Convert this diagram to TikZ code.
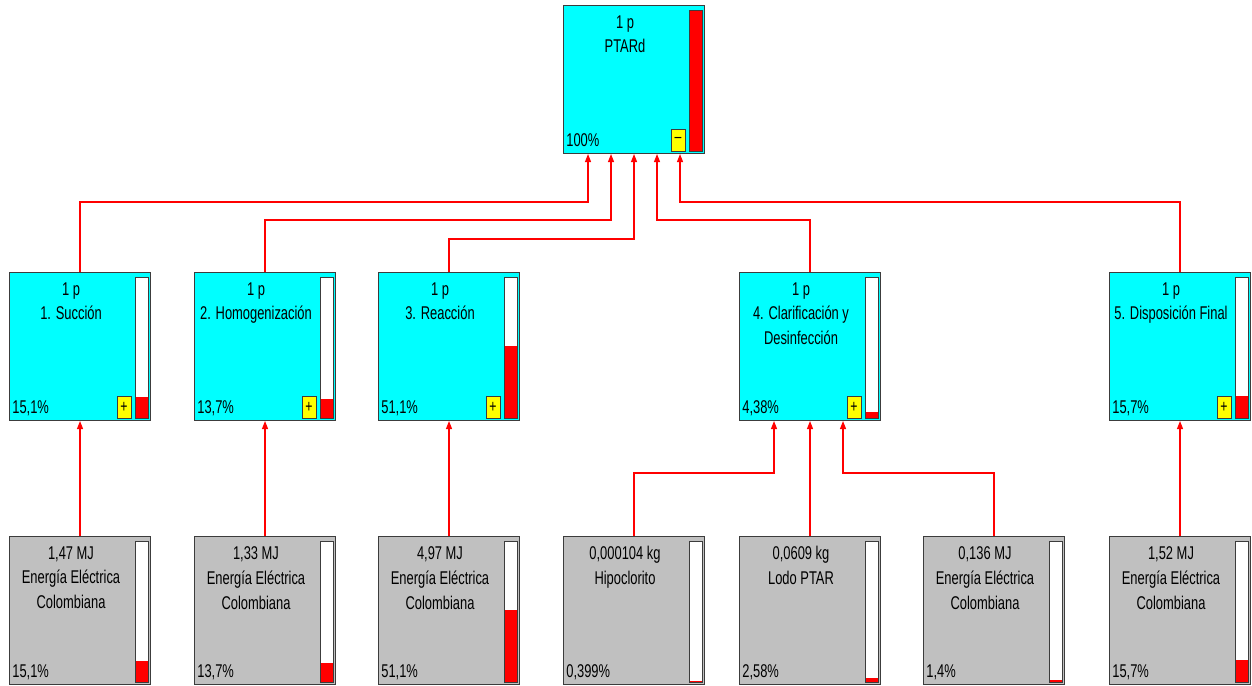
\documentclass[tikz,border=0pt]{standalone}
\usepackage{fontspec}
\setmainfont{Liberation Sans}[FakeStretch=0.70]
\usepackage{xcolor}
\definecolor{cian}{HTML}{00FFFF}
\definecolor{gris}{HTML}{C0C0C0}
\definecolor{borde}{HTML}{3C3C3C}
\definecolor{rojo}{HTML}{FF0000}
\definecolor{amarillo}{HTML}{FFFF00}
\usetikzlibrary{
  arrows.meta,
  positioning,
  calc
}

% caja: nombre, estilo, posicion, texto, porcentaje, fraccion, signo
\newcommand{\bloque}[7]{%
  \node[#2] (#1) at (#3) {};
  \node[titulo] (#1txt) at ($(#1.north west)+(62,10)$) {#4};
  \node[pct] (#1pct) at ($(#1.south west)+(3,-8)$) {#5};
  \draw[barra, fill=white] ($(#1.north east)+(-16,5)$) rectangle ($(#1.south east)+(-3,-3)$);
  \fill[rojo] ($(#1.south east)+(-16,-3)$) rectangle ($(#1.south east)+(-3,{-3-140*#6})$);
  \draw[barra] ($(#1.north east)+(-16,5)$) rectangle ($(#1.south east)+(-3,-3)$);
  \if\relax\detokenize{#7}\relax\else
    \node[signo] (#1sg) at ($(#1.south east)+(-27,-14)$) {#7};
  \fi
}

\begin{document}
\begin{tikzpicture}[
  x=0.02cm, y=-0.02cm,
  caja/.style={draw=borde, line width=0.6pt, minimum width=2.82cm, minimum height=2.96cm, anchor=north west, inner sep=0},
  proc/.style={caja, fill=cian},
  ent/.style={caja, fill=gris},
  titulo/.style={anchor=north, align=center, inner sep=0, font=\fontsize{10.5}{14.2}\selectfont},
  pct/.style={anchor=base west, inner sep=0, font=\fontsize{10.5}{12}\selectfont},
  barra/.style={draw=borde, line width=0.5pt},
  signo/.style={draw=borde, fill=amarillo, line width=0.5pt, minimum width=0.28cm, minimum height=0.44cm, inner sep=0, font=\fontsize{10}{10}\selectfont},
  flecha/.style={draw=rojo, line width=0.6pt, -{Triangle[length=1.6mm, width=1.2mm]}},
]
\useasboundingbox (0,0) rectangle (1252,686);

% Proceso principal
\bloque{p0}{proc}{563,5}{1 p\\PTARd}{100\%}{1}{--}

% Etapas
\bloque{s1}{proc}{9,272}{1 p\\1. Succión}{15,1\%}{0.151}{+}
\bloque{s2}{proc}{194,272}{1 p\\2. Homogenización}{13,7\%}{0.137}{+}
\bloque{s3}{proc}{378,272}{1 p\\3. Reacción}{51,1\%}{0.511}{+}
\bloque{s4}{proc}{739,272}{1 p\\4. Clarificación y\\Desinfección}{4,38\%}{0.0438}{+}
\bloque{s5}{proc}{1109,272}{1 p\\5. Disposición Final}{15,7\%}{0.157}{+}

% Entradas
\bloque{e1}{ent}{9,536}{1,47 MJ\\Energía Eléctrica\\Colombiana}{15,1\%}{0.151}{}
\bloque{e2}{ent}{194,536}{1,33 MJ\\Energía Eléctrica\\Colombiana}{13,7\%}{0.137}{}
\bloque{e3}{ent}{378,536}{4,97 MJ\\Energía Eléctrica\\Colombiana}{51,1\%}{0.511}{}
\bloque{h4}{ent}{563,536}{0,000104 kg\\Hipoclorito}{0,399\%}{0.00399}{}
\bloque{l4}{ent}{739,536}{0,0609 kg\\Lodo PTAR}{2,58\%}{0.0258}{}
\bloque{e4}{ent}{923,536}{0,136 MJ\\Energía Eléctrica\\Colombiana}{1,4\%}{0.014}{}
\bloque{e5}{ent}{1109,536}{1,52 MJ\\Energía Eléctrica\\Colombiana}{15,7\%}{0.157}{}

% Llegadas al proceso principal
\coordinate (in1) at ($(p0.south)+(-46,0)$);
\coordinate (in2) at ($(p0.south)+(-23,0)$);
\coordinate (in3) at ($(p0.south)+(0,0)$);
\coordinate (in4) at ($(p0.south)+(23,0)$);
\coordinate (in5) at ($(p0.south)+(46,0)$);

\draw[flecha] (s1.north) |- ($(in1)+(0,48)$) -- (in1);
\draw[flecha] (s2.north) |- ($(in2)+(0,66)$) -- (in2);
\draw[flecha] (s3.north) |- ($(in3)+(0,85)$) -- (in3);
\draw[flecha] (s4.north) |- ($(in4)+(0,66)$) -- (in4);
\draw[flecha] (s5.north) |- ($(in5)+(0,48)$) -- (in5);

% Entradas a las etapas
\coordinate (c1) at ($(s4.south)+(-36,0)$);
\coordinate (c3) at ($(s4.south)+(33,0)$);

\draw[flecha] (e1) -- (s1);
\draw[flecha] (e2) -- (s2);
\draw[flecha] (e3) -- (s3);
\draw[flecha] (h4.north) |- ($(c1)+(0,52)$) -- (c1);
\draw[flecha] (l4) -- (s4);
\draw[flecha] (e4.north) |- ($(c3)+(0,52)$) -- (c3);
\draw[flecha] (e5) -- (s5);

\end{tikzpicture}
\end{document}
